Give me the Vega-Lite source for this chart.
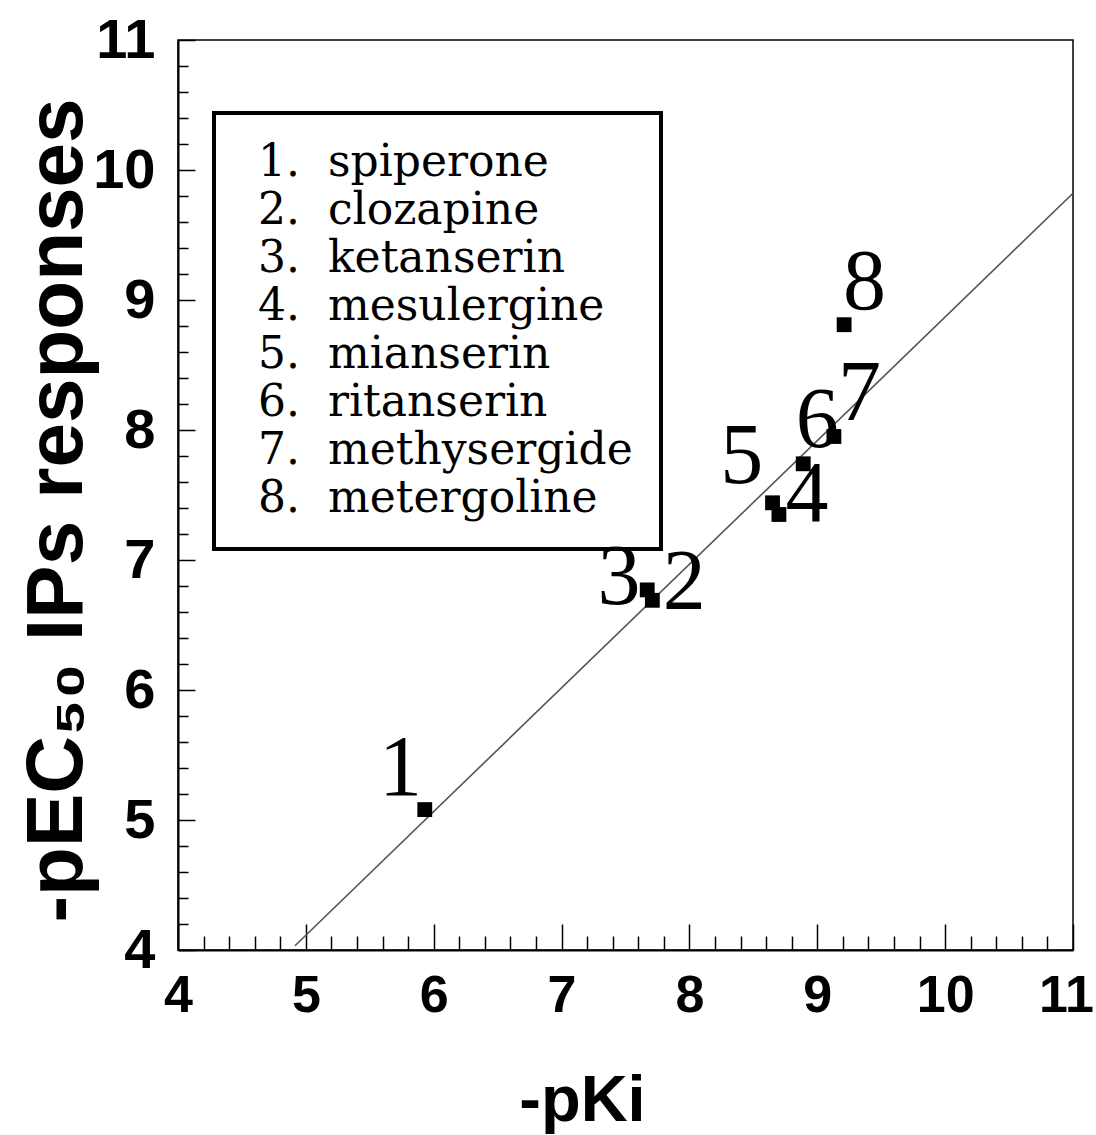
{
  "$schema": "https://vega.github.io/schema/vega-lite/v6.json",
  "autosize": {"type": "none"},
  "padding": {"left": 178, "top": 40, "right": 23, "bottom": 185},
  "width": 895,
  "height": 910,
  "background": "white",
  "config": {
    "view": {"stroke": "black", "strokeWidth": 1.5},
    "axis": {"grid": false, "domainColor": "black", "tickColor": "black", "labelColor": "black", "titleColor": "black"},
    "legend": {"strokeWidth": 4}
  },
  "datasets": {
    "pts": [
      {"num": "1", "entry": "1.\u00a0\u00a0spiperone", "pKi": 5.93, "pEC50": 5.08, "lx": 5.74, "ly": 5.39},
      {"num": "2", "entry": "2.\u00a0\u00a0clozapine", "pKi": 7.71, "pEC50": 6.69, "lx": 7.96, "ly": 6.82},
      {"num": "3", "entry": "3.\u00a0\u00a0ketanserin", "pKi": 7.67, "pEC50": 6.77, "lx": 7.45, "ly": 6.86},
      {"num": "4", "entry": "4.\u00a0\u00a0mesulergine", "pKi": 8.70, "pEC50": 7.35, "lx": 8.92, "ly": 7.50},
      {"num": "5", "entry": "5.\u00a0\u00a0mianserin", "pKi": 8.65, "pEC50": 7.44, "lx": 8.41, "ly": 7.79},
      {"num": "6", "entry": "6.\u00a0\u00a0ritanserin", "pKi": 8.89, "pEC50": 7.74, "lx": 9.0, "ly": 8.07},
      {"num": "7", "entry": "7.\u00a0\u00a0methysergide", "pKi": 9.13, "pEC50": 7.95, "lx": 9.33, "ly": 8.28},
      {"num": "8", "entry": "8.\u00a0\u00a0metergoline", "pKi": 9.21, "pEC50": 8.81, "lx": 9.37, "ly": 9.13}
    ],
    "fit": [
      {"pKi": 4.915, "pEC50": 4.033},
      {"pKi": 11, "pEC50": 9.821}
    ]
  },
  "resolve": {"axis": {"x": "independent", "y": "independent"}},
  "layer": [
    {
      "data": {"name": "fit"},
      "mark": {"type": "line", "color": "#555555", "strokeWidth": 1.6},
      "encoding": {
        "x": {"field": "pKi", "type": "quantitative", "scale": {"domain": [4, 11], "nice": false, "zero": false},
          "axis": {"orient": "bottom", "values": [4.2,4.4,4.6,4.8,5.2,5.4,5.6,5.8,6.2,6.4,6.6,6.8,7.2,7.4,7.6,7.8,8.2,8.4,8.6,8.8,9.2,9.4,9.6,9.8,10.2,10.4,10.6,10.8],
            "labels": false, "title": null, "domain": false, "tickSize": -14, "tickWidth": 1.5}},
        "y": {"field": "pEC50", "type": "quantitative", "scale": {"domain": [4, 11], "nice": false, "zero": false},
          "axis": {"orient": "left", "values": [4.2,4.4,4.6,4.8,5.2,5.4,5.6,5.8,6.2,6.4,6.6,6.8,7.2,7.4,7.6,7.8,8.2,8.4,8.6,8.8,9.2,9.4,9.6,9.8,10.2,10.4,10.6,10.8],
            "labels": false, "title": null, "domain": false, "tickSize": -10, "tickWidth": 1.5}}
      }
    },
    {
      "data": {"name": "pts"},
      "mark": {"type": "square", "size": 220, "opacity": 1},
      "encoding": {
        "x": {"field": "pKi", "type": "quantitative",
          "axis": {"orient": "bottom", "values": [4,5,6,7,8,9,10,11], "tickSize": -26, "tickWidth": 1.5,
            "domainWidth": 2, "labelPadding": 46, "labelFont": "Liberation Sans, Arial, sans-serif",
            "labelFontWeight": "bold", "labelFontSize": 52, "labelBaseline": "top", "labelFlush": false,
            "labelOffset": {"condition": {"test": "datum.value == 11", "value": -7}, "value": 0},
            "title": "-pKi", "titleFont": "Liberation Sans, Arial, sans-serif", "titleFontWeight": "bold", "titleFontSize": 65,
            "titleX": 404, "titleY": 170, "titleAlign": "center", "titleBaseline": "alphabetic"}},
        "y": {"field": "pEC50", "type": "quantitative",
          "axis": {"orient": "left", "values": [4,5,6,7,8,9,10,11], "tickSize": -17, "tickWidth": 1.5,
            "domainWidth": 2, "labelPadding": 40, "labelFont": "Liberation Sans, Arial, sans-serif",
            "labelFontWeight": "bold", "labelFontSize": 56, "labelBaseline": "middle", "labelFlush": false,
            "title": "-pEC\u2085\u2080 IPs responses", "titleFont": "Liberation Sans, Arial, sans-serif", "titleFontWeight": "bold", "titleFontSize": 80,
            "titleX": -97, "titleY": 470, "titleAngle": 270, "titleAlign": "center", "titleBaseline": "alphabetic"}},
        "color": {"field": "entry", "type": "nominal", "sort": "ascending",
          "scale": {"range": ["black","black","black","black","black","black","black","black"]},
          "legend": {"orient": "none", "legendX": 36, "legendY": 73, "title": null,
            "strokeColor": "black", "padding": 28,
            "labelFont": "DejaVu Serif, serif", "labelFontSize": 44, "labelColor": "black",
            "rowPadding": 4, "labelOffset": -28, "symbolSize": 0, "symbolOpacity": 0, "symbolStrokeWidth": 0, "labelLimit": 800}}
      }
    },
    {
      "data": {"name": "pts"},
      "mark": {"type": "text", "font": "Liberation Serif, Times New Roman, serif", "fontSize": 86, "align": "center", "baseline": "middle", "color": "black"},
      "encoding": {
        "x": {"field": "lx", "type": "quantitative", "axis": null},
        "y": {"field": "ly", "type": "quantitative", "axis": null},
        "text": {"field": "num"}
      }
    }
  ]
}
